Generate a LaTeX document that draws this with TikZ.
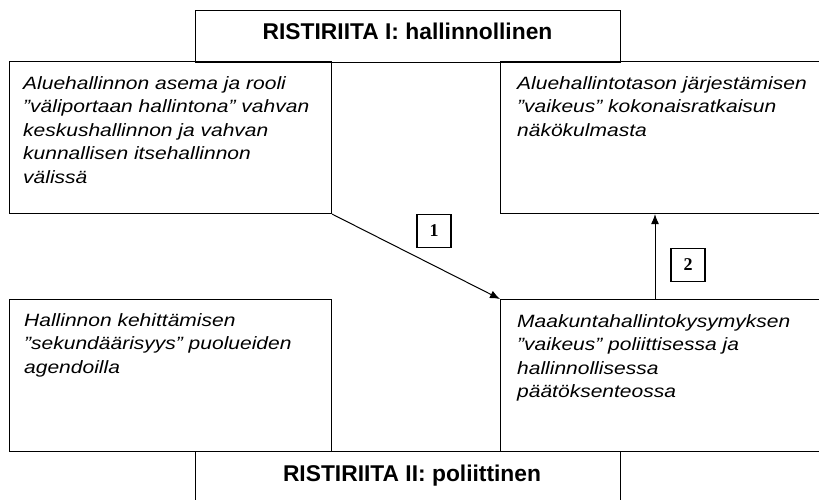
\documentclass[tikz,border=0pt]{standalone}
\usepackage{fontspec}
\setmainfont{Liberation Sans}
\newfontfamily\bodyfont[FakeStretch=1.18]{Liberation Sans}
\newfontfamily\numfont{Liberation Serif}
\usetikzlibrary{positioning,arrows.meta}

\tikzset{
  box/.style={draw, line width=1.1pt, anchor=north west, inner sep=0pt},
  boxtext/.style={anchor=north west, inner sep=0pt, align=left, font=\bodyfont\itshape\fontsize{17.8}{23.5}\selectfont},
  title/.style={anchor=base, font=\bfseries\fontsize{22.8}{26}\selectfont},
  numbox/.style={draw, line width=1.1pt, minimum width=34pt, minimum height=33pt, font=\numfont\bfseries\fontsize{18}{20}\selectfont}
}

\begin{document}
\begin{tikzpicture}[x=1pt, y=-1pt, >={Latex[length=10pt,width=8pt]}]
  \useasboundingbox (0,0) rectangle (819,499);
  \clip (0,0) rectangle (819,499);
  % ristiriidat
  \node[box, minimum width=425pt, minimum height=52pt] (top) at (195,10) {};
  \node[title] (toptitle) at (407.5,39) {RISTIRIITA I: hallinnollinen};
  \node[box, minimum width=425pt, minimum height=80pt] (bottom) at (195,451) {};
  \node[title] (bottomtitle) at (412,481) {RISTIRIITA II: poliittinen};
  % laatikot
  \node[box, minimum width=322pt, minimum height=152pt] (tl) at (9,61) {};
  \node[box, minimum width=330pt, minimum height=152pt] (tr) at (500,61) {};
  \node[box, minimum width=322pt, minimum height=152pt] (bl) at (9,299) {};
  \node[box, minimum width=330pt, minimum height=152pt] (br) at (500,299) {};
  \node[boxtext] (tltext) at ([shift={(14,15)}]tl.north west) {Aluehallinnon asema ja rooli\\ ”väliportaan hallintona” vahvan\\ keskushallinnon ja vahvan\\ kunnallisen itsehallinnon\\ välissä};
  \node[boxtext] (trtext) at ([shift={(17,15)}]tr.north west) {Aluehallintotason järjestämisen\\ ”vaikeus” kokonaisratkaisun\\ näkökulmasta};
  \node[boxtext] (bltext) at ([shift={(15,14)}]bl.north west) {Hallinnon kehittämisen\\ ”sekundäärisyys” puolueiden\\ agendoilla};
  \node[boxtext] (brtext) at ([shift={(17,15)}]br.north west) {Maakuntahallintokysymyksen\\ ”vaikeus” poliittisessa ja\\ hallinnollisessa\\ päätöksenteossa};
  % nuolet
  \draw[->, line width=1pt] (tl.south east) -- (br.north west);
  \coordinate (up) at (655,299);
  \draw[->, line width=1pt] (up) -- (up |- tr.south);
  \node[numbox] (n1) at (434,231) {1};
  \node[numbox] (n2) at (688,265) {2};
\end{tikzpicture}
\end{document}
